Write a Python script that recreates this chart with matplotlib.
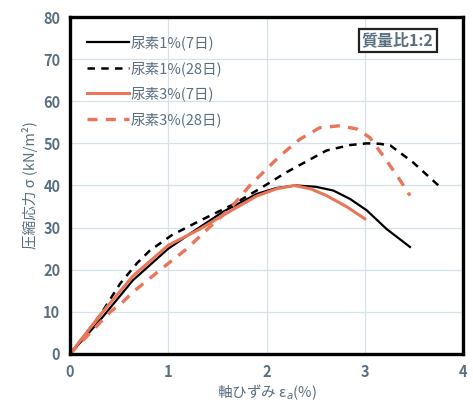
import matplotlib
matplotlib.use('Agg')
import matplotlib.pyplot as plt

plt.rcParams['font.family'] = ['Noto Sans CJK JP', 'DejaVu Sans']

# 尿素1% (7日)
strain_1_7 = [0, 0.305, 0.64, 1.0, 1.25, 1.56, 1.90, 2.1, 2.3, 2.5, 2.68, 2.85, 3.02, 3.22, 3.46]
stress_1_7 = [0, 8.0, 17.5, 25.0, 29.0, 33.8, 38.0, 39.4, 40.0, 39.7, 38.8, 36.8, 34.1, 29.7, 25.4]

# 尿素1% (28日)
strain_1_28 = [0, 0.3, 0.51, 0.68, 0.81, 1.035, 1.31, 1.66, 1.95, 2.2, 2.61, 2.85, 3.02, 3.15,
               3.26, 3.49, 3.75]
stress_1_28 = [0, 9.0, 16.7, 21.5, 24.5, 28.2, 31.5, 35.5, 39.5, 43.1, 48.3, 49.6, 50.0, 49.9,
               49.5, 45.5, 40.0]

# 尿素3% (7日)
strain_3_7 = [0, 0.305, 0.64, 1.0, 1.31, 1.6, 1.9, 2.1, 2.28, 2.45, 2.61, 2.82, 3.0]
stress_3_7 = [0, 9.2, 18.5, 25.8, 29.5, 33.5, 37.5, 39.2, 40.0, 39.2, 37.6, 34.9, 32.1]

# 尿素3% (28日)
strain_3_28 = [0, 0.41, 0.54, 0.64, 1.0, 1.19, 1.42, 1.63, 1.83, 2.0, 2.14, 2.34, 2.54, 2.75,
               2.92, 3.05, 3.21, 3.36, 3.46]
stress_3_28 = [0, 10.0, 12.4, 14.7, 21.5, 25.0, 30.1, 34.5, 40.0, 43.9, 47.1, 51.0, 53.7, 54.2,
               53.4, 51.4, 46.3, 41.2, 37.6]

text_col = '#5a6f80'
orange = '#ea7558'

fig = plt.figure(figsize=(4.73, 4.05), dpi=100)
ax = fig.add_axes([0.148, 0.126, 0.831, 0.832])

ax.plot(strain_1_7, stress_1_7, color='black', lw=1.6, label='尿素1%(7日)')
ax.plot(strain_1_28, stress_1_28, color='black', lw=1.8, ls=(0, (3, 2.5)), label='尿素1%(28日)')
ax.plot(strain_3_7, stress_3_7, color=orange, lw=2.2, label='尿素3%(7日)')
ax.plot(strain_3_28, stress_3_28, color=orange, lw=2.4, ls=(0, (3, 2.5)), label='尿素3%(28日)')

ax.set_xlim(0, 4)
ax.set_ylim(0, 80)
ax.set_xticks([0, 1, 2, 3, 4])
ax.set_yticks(range(0, 81, 10))
ax.grid(True, color='#d6e2ea', lw=0.9)
ax.set_axisbelow(True)
ax.tick_params(length=0, labelsize=10.5, labelcolor=text_col, pad=7)
for lbl in ax.get_xticklabels() + ax.get_yticklabels():
    lbl.set_fontweight('bold')
for s in ax.spines.values():
    s.set_linewidth(2.4)
    s.set_color('black')

ax.set_xlabel('軸ひずみ ε$_a$(%)', fontsize=10.5, color=text_col, labelpad=2)
ax.set_ylabel('圧縮応力 σ (kN/m²)', fontsize=10.5, color=text_col, labelpad=4)

leg = ax.legend(loc='upper left', frameon=False, fontsize=10.5, handlelength=2.9,
                handletextpad=0.1, labelspacing=0.75, bbox_to_anchor=(0.01, 0.985),
                labelcolor=text_col)

ax.text(0.925, 0.93, '質量比1:2', transform=ax.transAxes, ha='right', va='center',
        fontsize=11.5, color=text_col, fontweight='bold',
        bbox=dict(boxstyle='square,pad=0.2', fc='white', ec='#222222', lw=1.6))

fig.savefig('out.png', dpi=100)
